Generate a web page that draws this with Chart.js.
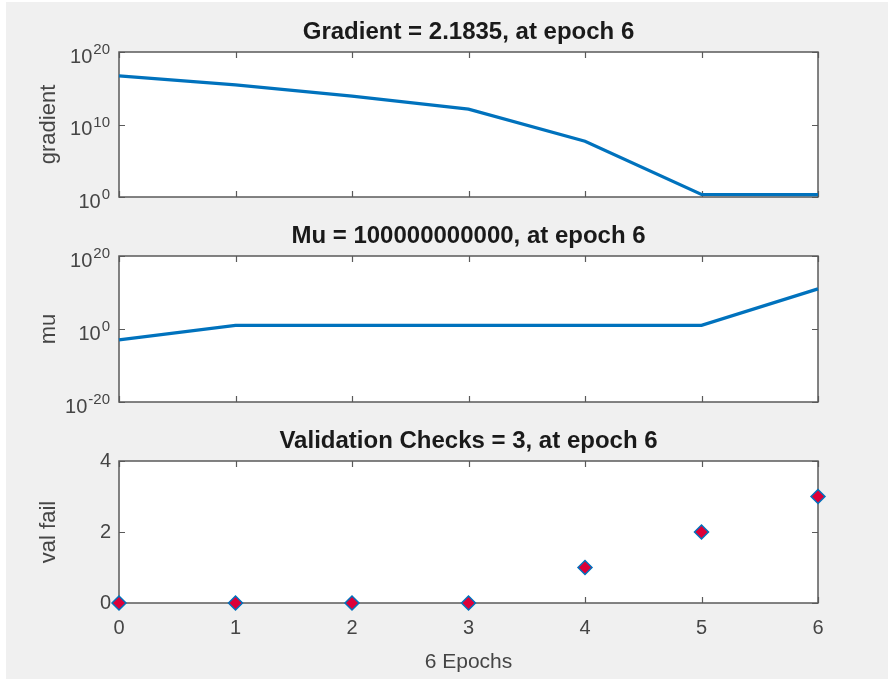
<!DOCTYPE html>
<html>
<head>
<meta charset="utf-8">
<script src="https://cdn.jsdelivr.net/npm/chart.js@4.4.1/dist/chart.umd.min.js"></script>
<style>
  html, body { margin: 0; padding: 0; overflow: hidden; }
  body { width: 888px; height: 679px; background: #f0f0f0; position: relative; }
  #edgeL { position: absolute; left: 0; top: 0; width: 6px; height: 679px; background: #fff; z-index: 2; }
  #edgeT { position: absolute; left: 0; top: 0; width: 888px; height: 2px; background: #fff; z-index: 2; }
  canvas { position: absolute; left: 0; }
</style>
</head>
<body>
<div id="edgeL"></div><div id="edgeT"></div>
<canvas id="c1" width="937" height="214" style="top:0px"></canvas>
<canvas id="c2" width="937" height="206" style="top:214px"></canvas>
<canvas id="c3" width="937" height="259" style="top:420px"></canvas>
<script>
// ---- data ----
const epochs = [0, 1, 2, 3, 4, 5, 6];
const gradientValues = [5e16, 3e15, 8e13, 1.3e12, 5e7, 2.2, 2.1835];
const muValues = [1e-3, 10, 10, 10, 10, 10, 1e11];
const valFailValues = [0, 0, 0, 0, 1, 2, 3];
const xTickValues = [0, 1, 2, 3, 4, 5, 6];
const gradientTicks = [1, 1e10, 1e20];
const gradientTickExponents = ['0', '10', '20'];
const muTicks = [1e-20, 1, 1e20];
const muTickExponents = ['-20', '0', '20'];
const valTicks = [0, 2, 4];
const valTickLabels = ['0', '2', '4'];
const titles = ['Gradient = 2.1835, at epoch 6', 'Mu = 100000000000, at epoch 6', 'Validation Checks = 3, at epoch 6'];
const yLabels = ['gradient', 'mu', 'val fail'];
const xLabel = '6 Epochs';

// ---- style ----
const FONT = "'Liberation Sans', Arial, Helvetica, sans-serif";
const LINE_BLUE = '#0072BD';
const AXIS_COL = '#5a5a5a';
const TEXT_COL = '#454545';
const TITLE_SIZE = 24, TICK_SIZE = 20, EXP_SIZE = 15, YLABEL_SIZE = 22, XLABEL_SIZE = 21;
const PLOT_LEFT = 119, PLOT_RIGHT = 818, CANVAS_W = 937;
const TICK_RIGHT = 110;

const matlabAxes = {
  id: 'matlabAxes',
  beforeDraw(chart) {
    const {ctx, chartArea: a} = chart;
    ctx.save();
    ctx.fillStyle = '#ffffff';
    ctx.fillRect(a.left, a.top, a.right - a.left, a.bottom - a.top);
    ctx.restore();
  },
  beforeDatasetsDraw(chart) {
    const {ctx, chartArea: a} = chart;
    const xs = chart.scales.x, ys = chart.scales.y;
    const tl = 6;
    ctx.save();
    ctx.strokeStyle = AXIS_COL;
    ctx.lineWidth = 1.2;
    ctx.beginPath();
    xs.ticks.forEach(t => {
      const px = Math.round(xs.getPixelForValue(t.value)) + 0.5;
      ctx.moveTo(px, a.bottom); ctx.lineTo(px, a.bottom - tl);
      ctx.moveTo(px, a.top); ctx.lineTo(px, a.top + tl);
    });
    ys.ticks.forEach(t => {
      const py = Math.round(ys.getPixelForValue(t.value)) + 0.5;
      ctx.moveTo(a.left, py); ctx.lineTo(a.left + tl, py);
      ctx.moveTo(a.right, py); ctx.lineTo(a.right - tl, py);
    });
    ctx.stroke();
    ctx.lineWidth = 1.5;
    ctx.strokeRect(a.left, a.top, a.right - a.left, a.bottom - a.top);
    ctx.restore();
  },
  afterDraw(chart, args, opts) {
    // power-of-ten tick labels with raised exponents (log axes)
    if (!opts.exponents) return;
    const {ctx} = chart;
    const ys = chart.scales.y;
    ctx.save();
    ctx.fillStyle = TEXT_COL;
    ctx.textBaseline = 'middle';
    ctx.textAlign = 'left';
    ys.ticks.forEach((t, i) => {
      const py = ys.getPixelForValue(t.value);
      const exp = opts.exponents[i];
      ctx.font = EXP_SIZE + 'px ' + FONT;
      const ew = ctx.measureText(exp).width;
      ctx.font = TICK_SIZE + 'px ' + FONT;
      const bw = ctx.measureText('10').width;
      const x0 = TICK_RIGHT - ew - bw - 1;
      ctx.fillText('10', x0, py + 5);
      ctx.font = EXP_SIZE + 'px ' + FONT;
      ctx.fillText(exp, x0 + bw + 1, py - 2);
    });
    ctx.restore();
  }
};

function makeChart(id, cfg) {
  const lhT = TITLE_SIZE * 1.2;
  const pt = cfg.titleCenter - cfg.bandTop - lhT / 2;
  const pb = cfg.chartTop - cfg.titleCenter - lhT / 2;
  const xAxisH = cfg.bandTop + cfg.bandH - cfg.chartBottom;
  const points = epochs.map((e, i) => ({x: e, y: cfg.values[i]}));
  const yScale = {
    type: cfg.yType,
    min: cfg.yMin, max: cfg.yMax,
    grid: {display: false, drawTicks: false},
    border: {display: false},
    ticks: {
      display: !cfg.exponents,
      color: TEXT_COL, padding: 8,
      font: {family: FONT, size: TICK_SIZE},
      callback: (v) => {
        const i = cfg.yTicks.indexOf(v);
        return (i >= 0 && cfg.yTickLabels) ? cfg.yTickLabels[i] : '';
      }
    },
    afterBuildTicks: (s) => { s.ticks = cfg.yTicks.map(v => ({value: v})); },
    afterFit: (s) => { s.width = PLOT_LEFT; },
    title: {
      display: true, text: cfg.yLabel, color: TEXT_COL,
      font: {family: FONT, size: YLABEL_SIZE},
      padding: {top: 49 - YLABEL_SIZE * 0.6, bottom: 0}
    }
  };
  // invisible right-hand spacer axis so the title centres over the plot box
  const spacer = {
    type: 'linear', position: 'right', min: 0, max: 1,
    grid: {display: false, drawTicks: false},
    border: {display: false},
    ticks: {display: false},
    afterFit: (s) => { s.width = CANVAS_W - PLOT_RIGHT; }
  };
  const xScale = {
    type: 'linear', min: 0, max: 6,
    grid: {display: false, drawTicks: false},
    border: {display: false},
    afterBuildTicks: (s) => { s.ticks = xTickValues.map(v => ({value: v})); },
    afterFit: (s) => { s.height = xAxisH; },
    ticks: {
      display: cfg.showX, color: TEXT_COL, padding: 13,
      font: {family: FONT, size: TICK_SIZE}
    },
    title: {
      display: cfg.showX, text: xLabel, color: TEXT_COL,
      font: {family: FONT, size: XLABEL_SIZE},
      padding: {top: 0, bottom: 679 - 662 - XLABEL_SIZE * 0.6}
    }
  };
  return new Chart(document.getElementById(id), {
    type: 'line',
    data: {
      datasets: [cfg.markers ? {
        data: points, showLine: false, clip: false, yAxisID: 'y',
        pointStyle: 'rectRot', pointRadius: 7, pointBorderWidth: 1.5,
        pointBackgroundColor: '#dc0038', pointBorderColor: LINE_BLUE
      } : {
        data: points, clip: false, yAxisID: 'y',
        borderColor: LINE_BLUE, borderWidth: 3.2, pointRadius: 0, tension: 0
      }]
    },
    options: {
      responsive: false, animation: false,
      layout: {padding: 0},
      plugins: {
        legend: {display: false}, tooltip: {enabled: false},
        title: {
          display: true, text: cfg.title, color: '#1a1a1a',
          font: {family: FONT, size: TITLE_SIZE, weight: 'bold'},
          padding: {top: pt, bottom: pb}
        },
        matlabAxes: {exponents: cfg.exponents || null}
      },
      scales: {x: xScale, y: yScale, yR: spacer}
    },
    plugins: [matlabAxes]
  });
}

makeChart('c1', {bandTop: 0, bandH: 214, titleCenter: 32, chartTop: 52, chartBottom: 197,
  values: gradientValues, yType: 'logarithmic', yMin: 1, yMax: 1e20,
  yTicks: gradientTicks, exponents: gradientTickExponents, yLabel: yLabels[0],
  title: titles[0], showX: false, markers: false});
makeChart('c2', {bandTop: 214, bandH: 206, titleCenter: 236, chartTop: 256, chartBottom: 402,
  values: muValues, yType: 'logarithmic', yMin: 1e-20, yMax: 1e20,
  yTicks: muTicks, exponents: muTickExponents, yLabel: yLabels[1],
  title: titles[1], showX: false, markers: false});
makeChart('c3', {bandTop: 420, bandH: 259, titleCenter: 441, chartTop: 461, chartBottom: 603,
  values: valFailValues, yType: 'linear', yMin: 0, yMax: 4,
  yTicks: valTicks, yTickLabels: valTickLabels, yLabel: yLabels[2],
  title: titles[2], showX: true, markers: true});
</script>
</body>
</html>
